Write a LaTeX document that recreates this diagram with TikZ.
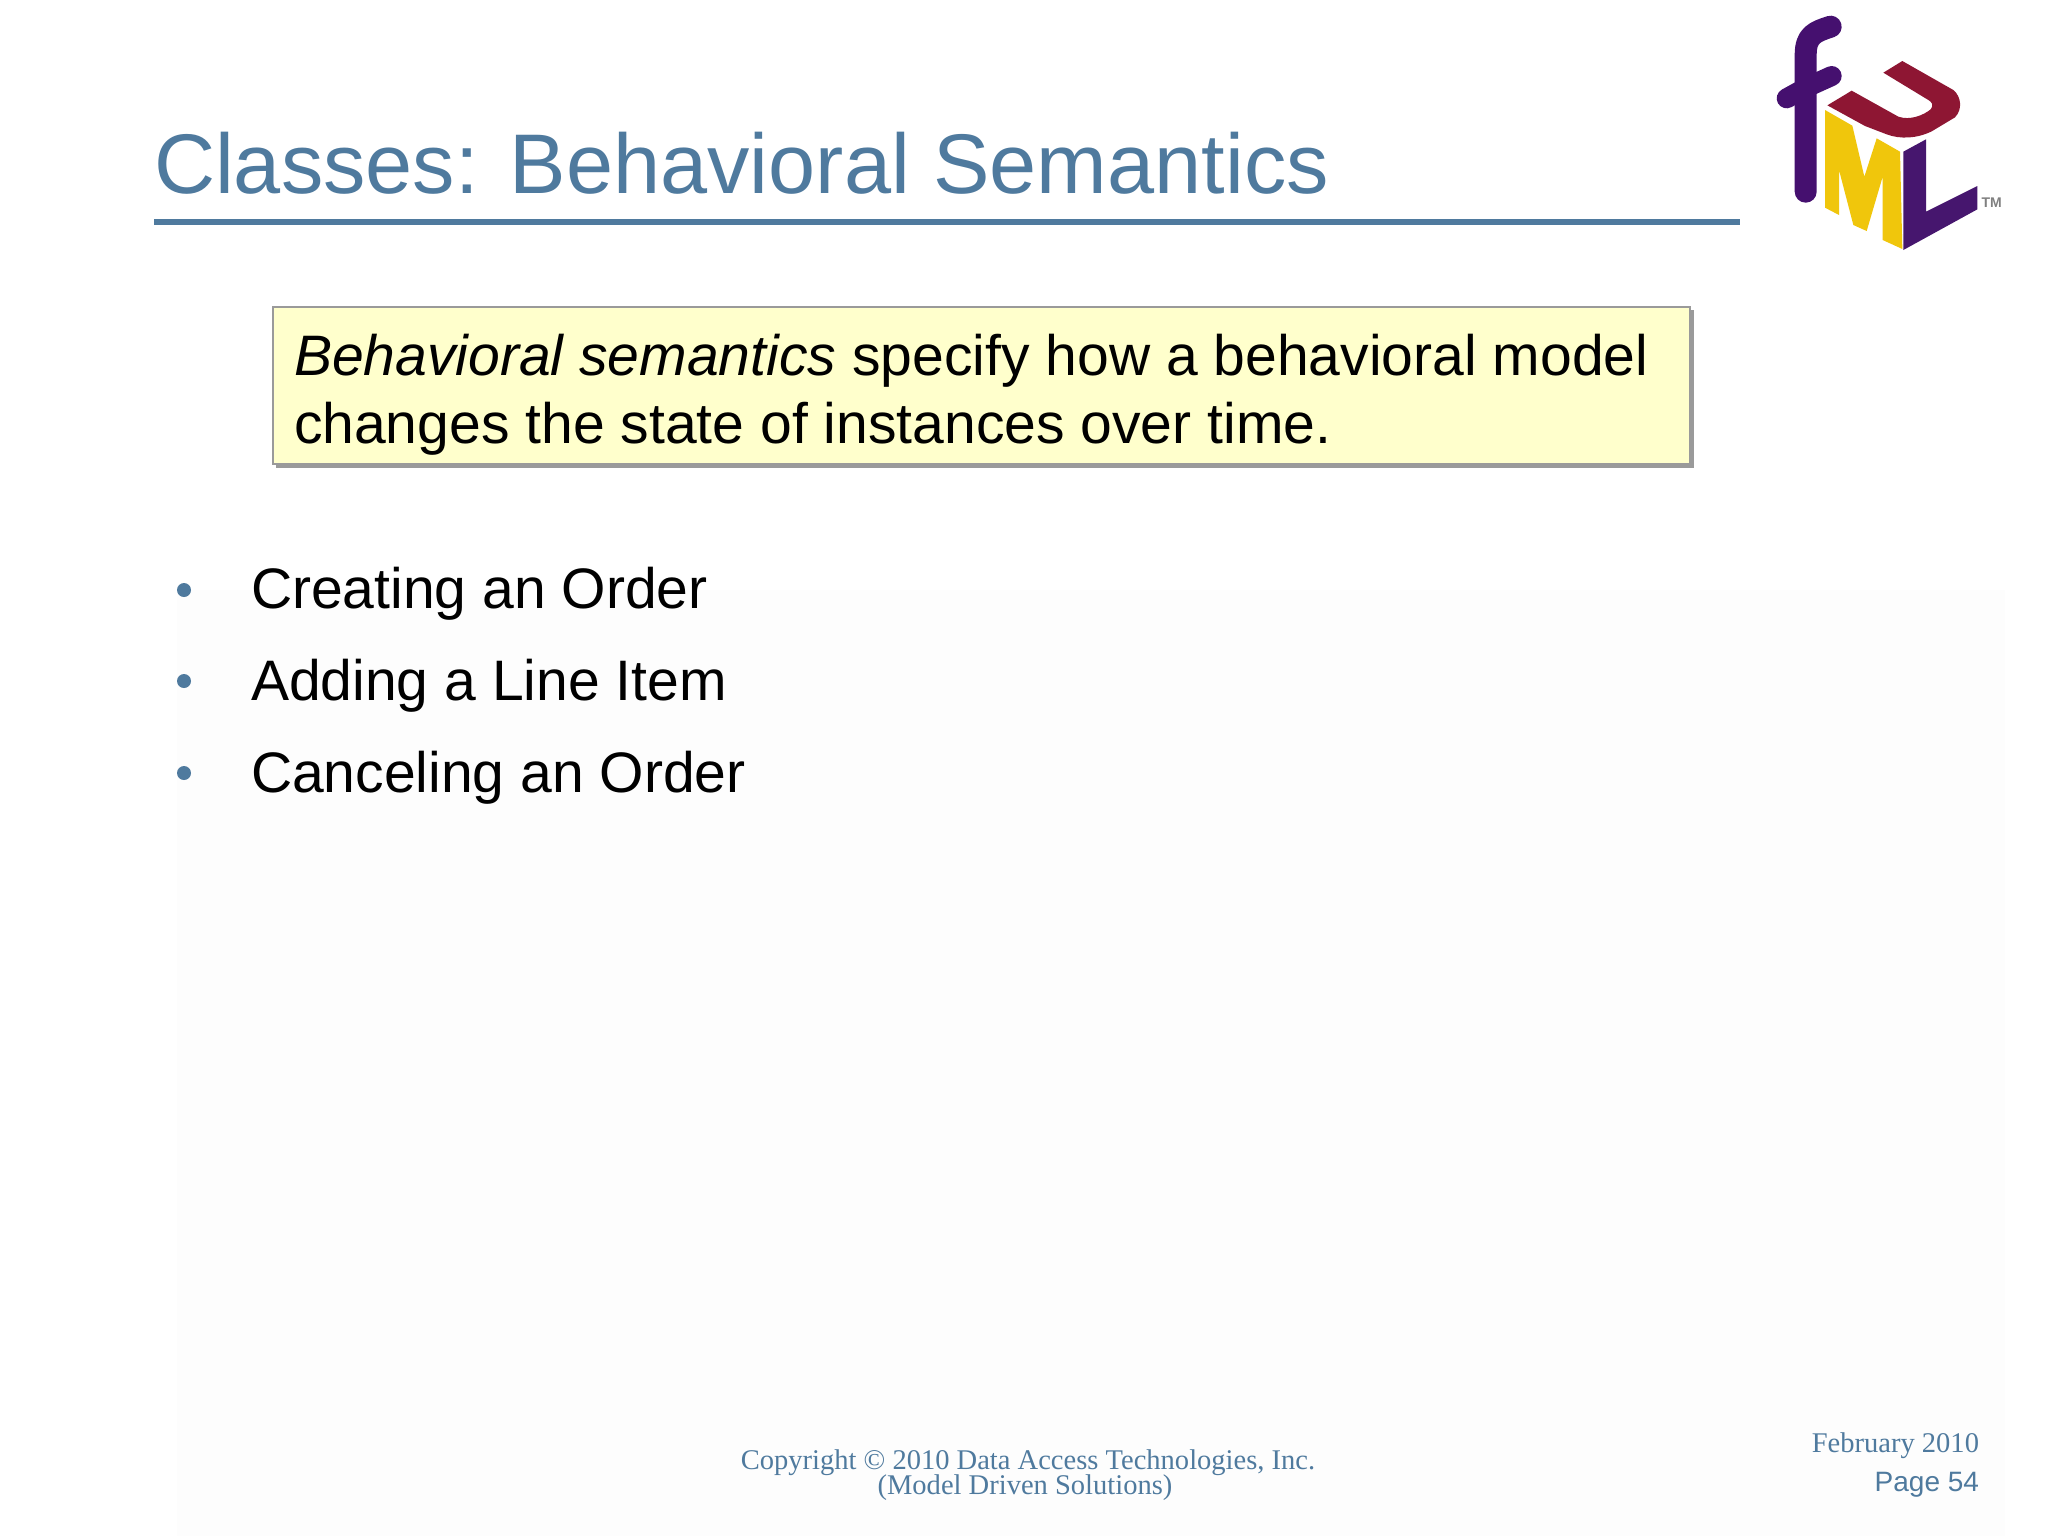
\documentclass[tikz,border=0pt]{standalone}
\usepackage{fontspec}
\setmainfont{Liberation Sans}
\newfontfamily\timesf{Liberation Serif}
\definecolor{slate}{HTML}{4F7A9E}
\definecolor{noteyellow}{HTML}{FFFFCC}
\definecolor{notegray}{HTML}{9A9A9A}
\definecolor{logopurple}{HTML}{45106F}
\definecolor{logored}{HTML}{8E1633}
\definecolor{logoyellow}{HTML}{F0C60C}
\definecolor{logoviolet}{HTML}{46166E}
\definecolor{faintbg}{HTML}{FDFDFD}
\tikzset{
  txt/.style={inner sep=0pt,outer sep=0pt,anchor=base west},
  title/.style={txt,text=slate,font=\fontsize{63.5}{63.5}\selectfont},
  notetext/.style={txt,text=black,font=\fontsize{42.8}{42.8}\selectfont},
  bullettext/.style={txt,text=black,font=\fontsize{42.8}{42.8}\selectfont},
  bulletmark/.style={circle,fill=slate,inner sep=0pt,minimum size=10.5pt},
  foot/.style={inner sep=0pt,outer sep=0pt,text=slate,font=\timesf\fontsize{21.4}{21.4}\selectfont},
}
\begin{document}
\begin{tikzpicture}[x=0.75pt,y=-0.75pt]
\useasboundingbox (0,0) rectangle (2048,1536);
\fill[white] (0,0) rectangle (2048,1536);
\fill[faintbg] (177,590) rectangle (2005,1536);
% title
\node[title] (titletext) at (154,193) {Classes: Behavioral Semantics};
\fill[slate] (154,219) rectangle (1740,225);
% note box
\fill[notegray] (276,310) rectangle (1694,468);
\draw[notegray,fill=noteyellow,line width=2pt] (273,307) rectangle (1690,464);
\node[notetext] (noteone) at (294,375) {\textit{Behavioral semantics} specify how a behavioral model};
\node[notetext] (notetwo) at (294,443) {changes the state of instances over time.};
% bullets
\node[bulletmark] (bone) at (184,590) {};
\node[bulletmark] (btwo) at (184,681) {};
\node[bulletmark] (bthree) at (184,773) {};
\node[bullettext] (lone) at (251,608) {Creating an Order};
\node[bullettext] (ltwo) at (251,700) {Adding a Line Item};
\node[bullettext] (lthree) at (251,792) {Canceling an Order};
% footer
\node[foot,anchor=base] (copy) at (1028,1469) {Copyright © 2010 Data Access Technologies, Inc.};
\node[foot,anchor=base] (model) at (1025,1494) {(Model Driven Solutions)};
\node[foot,anchor=base east] (feb) at (1979,1452) {February 2010};
\node[inner sep=0pt,outer sep=0pt,anchor=base east,text=slate,font=\fontsize{21}{21}\selectfont] (page) at (1979,1491) {Page 54};
% logo (coordinates from the 3x crop)
\begin{scope}[shift={(1740,0)},x=0.25pt,y=-0.25pt]
\draw[logopurple,line width=16.5pt,line cap=round,line join=round]
  (272,80) .. controls (225,95) and (197,105) .. (197,165) -- (197,575);
\draw[logopurple,line width=15pt,line cap=round] (140,295) -- (200,262) -- (275,228);
\fill[logored] (430,218) -- (487,183) -- (640,270) .. controls (664,290) and (668,328) .. (645,352)
  -- (575,394) .. controls (530,416) and (480,418) .. (440,403) -- (375,378) -- (262,316) -- (335,272) -- (475,350)
  .. controls (510,362) and (550,346) .. (572,328) .. controls (582,316) and (576,306) .. (565,300) -- cycle;
\fill[logoyellow] (255,330) -- (337,377) -- (373,530) -- (410,415) -- (480,455) -- (487,747) -- (428,720)
  -- (428,530) -- (380,693) -- (340,675) -- (297,510) -- (297,645) -- (255,623) -- cycle;
\fill[logoviolet] (490,455) -- (558,418) -- (558,635) -- (712,558) -- (712,628) -- (490,750) -- cycle;
\node[inner sep=0pt,text=gray,font=\bfseries\fontsize{10.5}{10.5}\selectfont] (tm) at (755,607) {TM};
\end{scope}
\end{tikzpicture}
\end{document}
